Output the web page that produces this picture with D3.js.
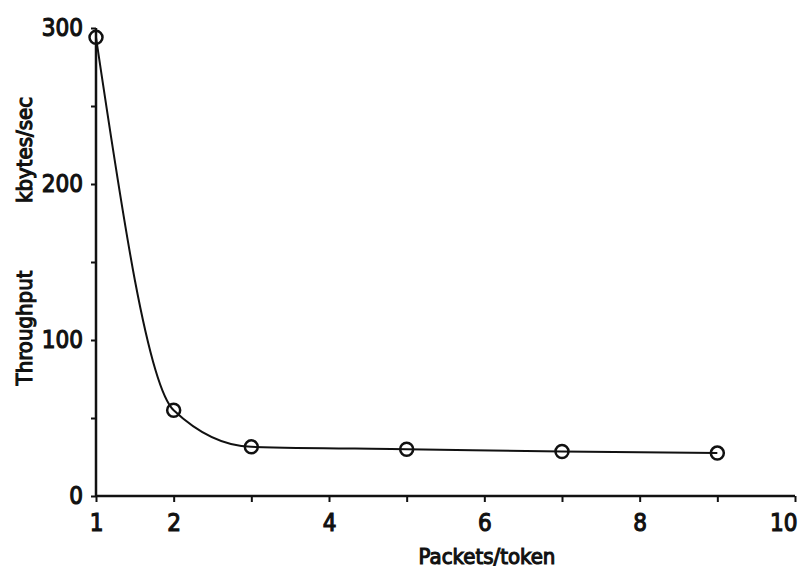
<!DOCTYPE html>
<html><head><meta charset="utf-8">
<script src="https://cdn.jsdelivr.net/npm/d3@7"></script>
<style>
body{margin:0;background:#fff;}
text{font-family:"DejaVu Sans Condensed","DejaVu Sans",sans-serif;fill:#111;stroke:#111;stroke-width:1.1px;}
</style></head>
<body><svg id="c" width="806" height="573"></svg>
<script>
const packets = [1, 2, 3, 5, 7, 9];
const throughput = [294, 55, 31.5, 30, 28.5, 27.5];
const xTickValues = [1,2,3,4,5,6,7,8,9,10];
const xTickLabels = {1:"1",2:"2",4:"4",6:"6",8:"8",10:"10"};
const yTickValues = [0,50,100,150,200,250,300];
const yTickLabels = {0:"0",100:"100",200:"200",300:"300"};
const xTitle = "Packets/token";
const yTitleA = "Throughput";
const yTitleB = "kbytes/sec";

const svg = d3.select("#c");
const x = d3.scaleLinear().domain([1,10]).range([96,795]);
const y = d3.scaleLinear().domain([0,300]).range([496,28]);

// axes
const xAxis = d3.axisBottom(x).tickValues(xTickValues).tickSize(6).tickPadding(9)
  .tickFormat(d => xTickLabels[d] || "");
const gx = svg.append("g").attr("transform",`translate(0,${y(0)})`).call(xAxis);
gx.select(".domain").attr("stroke","#111").attr("stroke-width",2.5).attr("d",`M${x(1)},0H${x(10)}`);
gx.selectAll(".tick line").attr("stroke","#111").attr("stroke-width",2);
gx.selectAll(".tick text").attr("font-size",24).attr("dy","0.82em").style("fill","#111")
  .attr("text-anchor", d => d === 10 ? "end" : "middle").attr("x", d => d === 10 ? 2 : 0);

const yAxis = d3.axisLeft(y).tickValues(yTickValues).tickSize(5).tickPadding(8)
  .tickFormat(d => yTickLabels[d] !== undefined ? yTickLabels[d] : "");
const gy = svg.append("g").attr("transform",`translate(${x(1)},0)`).call(yAxis);
gy.select(".domain").attr("stroke","#111").attr("stroke-width",2.5).attr("d",`M0,${y(0)}V${y(300)}`);
gy.selectAll(".tick line").attr("stroke","#111").attr("stroke-width",2);
gy.selectAll(".tick text").attr("font-size",24).style("fill","#111");

// titles
svg.append("text").attr("x",487).attr("y",564).attr("text-anchor","middle")
  .attr("font-size",22).text(xTitle);
svg.append("text").attr("transform","translate(32,328) rotate(-90)").attr("text-anchor","middle")
  .attr("font-size",22).text(yTitleA);
svg.append("text").attr("transform","translate(32,150) rotate(-90)").attr("text-anchor","middle")
  .attr("font-size",22).text(yTitleB);

// curve
const pts = packets.map((p,i)=>[p,throughput[i]]);
const line = d3.line().x(d=>x(d[0])).y(d=>y(d[1])).curve(d3.curveMonotoneX);
svg.append("path").datum(pts).attr("d",line).attr("fill","none").attr("stroke","#111").attr("stroke-width",2);

svg.selectAll("circle.pt").data(pts).enter().append("circle").attr("class","pt")
  .attr("cx",d=>x(d[0])).attr("cy",d=>y(d[1])).attr("r",6.5)
  .attr("fill","none").attr("stroke","#111").attr("stroke-width",2.5);
</script></body></html>
